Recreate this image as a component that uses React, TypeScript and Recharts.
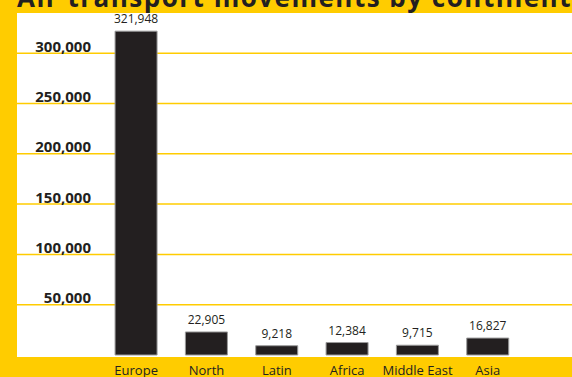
import { BarChart, Bar, XAxis, YAxis, CartesianGrid, LabelList } from 'recharts';

const continents = ['Europe', 'North', 'Latin', 'Africa', 'Middle East', 'Asia'];
const movements = [321948, 22905, 9218, 12384, 9715, 16827];
const yTicks = [50000, 100000, 150000, 200000, 250000, 300000];

const data = continents.map((name, i) => ({ name, movements: movements[i] }));

const YELLOW = '#FFCC00';
const DARK = '#231F20';
const FONT = '"Open Sans", "DejaVu Sans", sans-serif';

const fmt = (v: number) => v.toLocaleString('en-US');

const YTick = (props: any) => {
  const { y, payload } = props;
  return (
    <text x={91} y={y - 1.5} textAnchor="end" fill={DARK} fontSize={15} fontWeight="bold" fontFamily={FONT}>
      {fmt(payload.value)}
    </text>
  );
};

const XTick = (props: any) => {
  const { x, y, payload } = props;
  return (
    <text x={x} y={y + 12} textAnchor="middle" fill={DARK} fontSize={13} fontFamily={FONT}>
      {payload.value}
    </text>
  );
};

export default function App() {
  return (
    <div style={{ position: 'absolute', left: 0, top: 0, width: 572, height: 377, background: YELLOW, overflow: 'hidden' }}>
      <div style={{ position: 'absolute', left: 17, top: 13, width: 555, height: 344, background: '#fff' }} />
      <div
        style={{
          position: 'absolute', left: 17, top: -16.5, fontSize: 26, lineHeight: '26px', fontWeight: 'bold',
          fontFamily: FONT, color: DARK, whiteSpace: 'nowrap', letterSpacing: 1.5,
        }}
      >
        Air transport movements by continent
      </div>
      <div style={{ position: 'absolute', left: 0, top: 0 }}>
        <BarChart width={572} height={377} data={data} margin={{ top: 13, right: 0, bottom: 0, left: 17 }} barCategoryGap="20%">
          <CartesianGrid horizontal vertical={false} horizontalValues={yTicks} stroke={YELLOW} strokeWidth={1.5} />
          <XAxis
            dataKey="name"
            axisLine={false}
            tickLine={false}
            height={22}
            interval={0}
            padding={{ left: 84, right: 49 }}
            tick={<XTick />}
          />
          <YAxis
            mirror
            domain={[0, 340000]}
            ticks={yTicks}
            interval={0}
            axisLine={false}
            tickLine={false}
            tick={<YTick />}
          />
          <Bar dataKey="movements" fill={DARK} stroke="#9a9a9a" strokeWidth={1} isAnimationActive={false}>
            <LabelList dataKey="movements" position="top" offset={8} formatter={(v: any) => fmt(Number(v))} fill={DARK} fontSize={12} fontFamily={FONT} />
          </Bar>
        </BarChart>
      </div>
    </div>
  );
}
